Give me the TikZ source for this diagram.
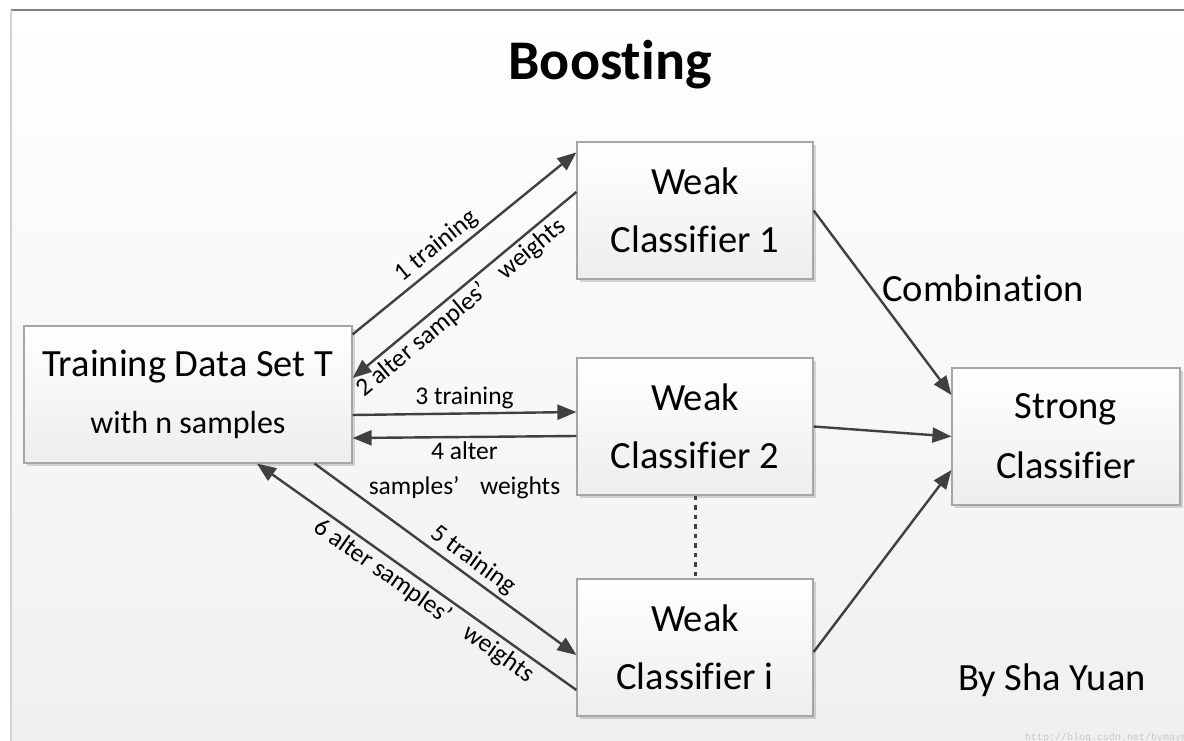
\documentclass[tikz,border=0pt]{standalone}
\usepackage{fontspec}
\setmainfont{Carlito}[Ligatures={TeX,NoCommon}]
\newfontfamily\urlfont{Liberation Mono}
\usepackage{xcolor}
\usetikzlibrary{arrows.meta,shadows,positioning}

\definecolor{linegray}{HTML}{404040}
\definecolor{boxedge}{HTML}{A6A6A6}

\tikzset{
  box/.style={draw=boxedge, line width=1.2pt, top color=white, bottom color=black!7,
    align=center, minimum height=137pt, inner sep=0pt,
    drop shadow={shadow xshift=3pt, shadow yshift=-3pt, fill=black, opacity=0.15},
    font=\fontsize{38.5}{58}\selectfont},
  link/.style={-{Triangle[length=19pt,width=15pt]}, line width=2.4pt, draw=linegray},
  lbl/.style={font=\fontsize{25.5}{35}\selectfont, text=black, align=center}
}

\begin{document}
\begin{tikzpicture}[x=1pt, y=-1pt]
            \useasboundingbox (0,0) rectangle (1184,741);
            \fill [white] (0,0) rectangle (1184,741);
            \shade [top color=white, bottom color=black!6] (11,10) rectangle (1184,741);
            \draw [black!50, line width=1.2pt] (11,10) -- (1184,10);
            \draw [black!18, line width=2pt] (11,10) -- (11,741);

            \node [font=\fontsize{56}{60}\selectfont\bfseries, anchor=base] (title) at (610,80) {Boosting};

            \node [box, minimum width=328pt, font=\fontsize{38.5}{57}\selectfont] (train) at (188,394.5) {Training Data Set T\\{\fontsize{32}{57}\selectfont with n samples}};
            \node [box, minimum width=236pt] (weak1) at (695,210.5) {Weak\\Classifier 1};
            \node [box, minimum width=236pt] (weak2) at (695,426.5) {Weak\\Classifier 2};
            \node [box, minimum width=236pt] (weaki) at (695,647.5) {Weak\\Classifier i};
            \node [box, minimum width=228pt, font=\fontsize{38.5}{60}\selectfont] (strong) at (1066,436.5) {Strong\\Classifier};

            % training and re-weighting rounds
            \draw [link] ([yshift=-9pt]train.north east) -- node[lbl, above, sloped, pos=.42] {1 training} ([yshift=-11pt]weak1.north west);
            \draw [link] ([yshift=18.5pt]weak1.west) -- node[lbl, below, sloped, pos=.56] {2 alter samples’\hspace{.8em}weights} ([yshift=16.5pt]train.east);
            \draw [link] ([yshift=-20.5pt]train.east) -- node[lbl, above] {3 training} ([yshift=14.5pt]weak2.west);
            \draw [link] ([yshift=-9.5pt]weak2.west) -- node[lbl, below] {4 alter\\samples’\hspace{.8em}weights} ([yshift=-43.5pt]train.east);
            \draw [link] ([xshift=-38pt]train.south east) -- node[lbl, above, sloped, pos=.57] {5 training} ([yshift=-7.5pt]weaki.west);
            \draw [link] ([yshift=-42.5pt]weaki.west) -- node[lbl, below, sloped, pos=.45] {6 alter samples’\hspace{.8em}weights} ([xshift=69pt]train.south);

            % more weak classifiers in between
            \draw [linegray, line width=3pt, dash pattern=on 4.5pt off 5pt] (weak2.south) -- (weaki.north);

            % combination
            \draw [link] (weak1.east) -- ([yshift=41.5pt]strong.west);
            \draw [link] (weak2.east) -- (strong.west);
            \draw [link] ([yshift=-4.5pt]weaki.east) -- ([yshift=-33.5pt]strong.west);
            \node [font=\fontsize{38.5}{46}\selectfont, anchor=base] (comb) at (983,301) {Combination};

            \node [font=\fontsize{38.5}{46}\selectfont, anchor=base] (author) at (1052,690) {By Sha Yuan};
            \node [font=\urlfont\fontsize{10}{12}\selectfont, text=black!22, anchor=base west, inner sep=0pt] (url) at (1025,740) {http://blog.csdn.net/bymaym};
        \end{tikzpicture}
\end{document}
